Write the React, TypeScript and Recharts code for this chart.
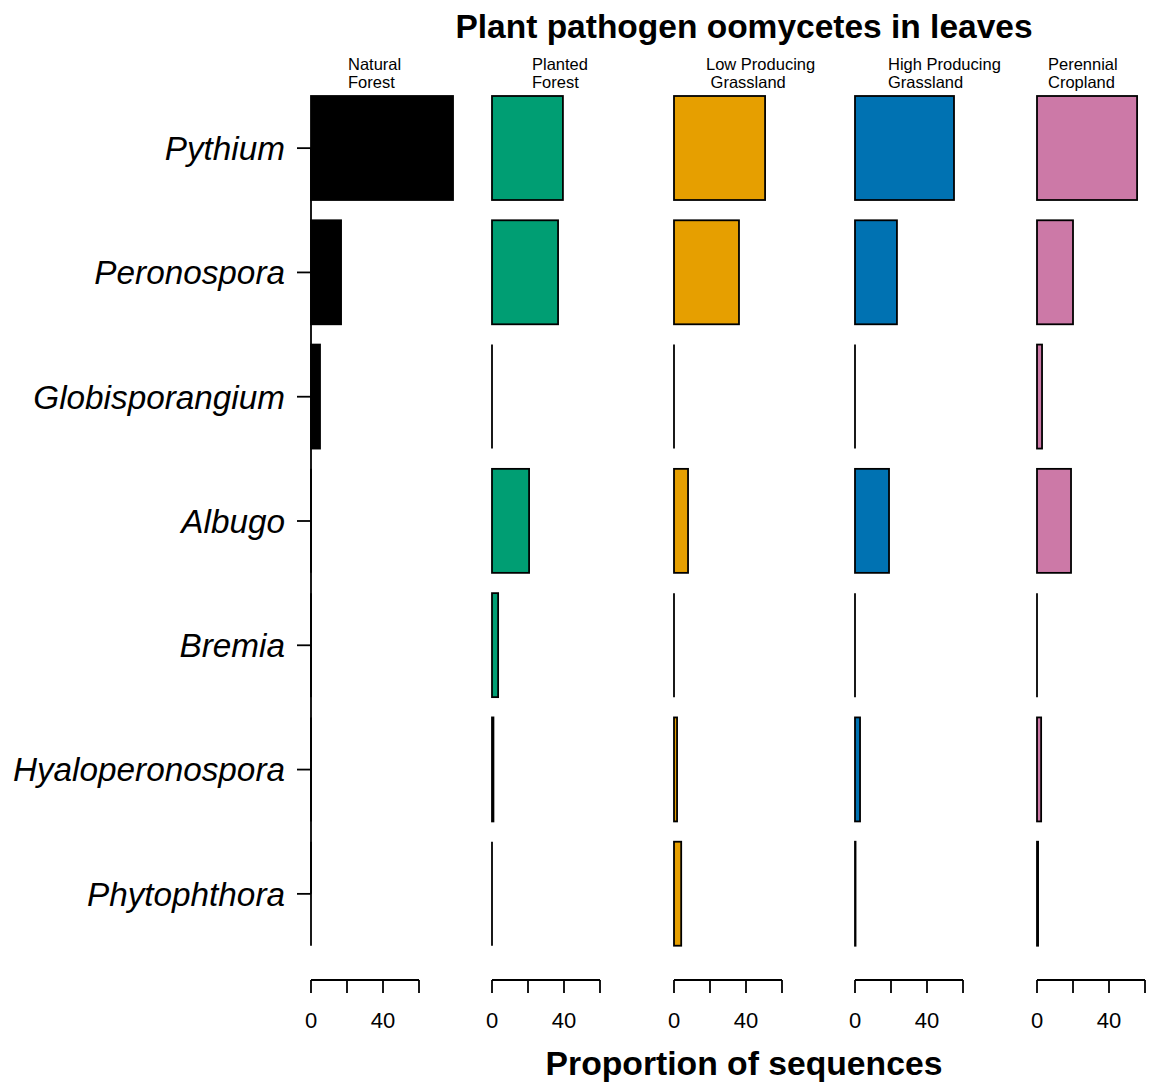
import React from 'react';
import { BarChart, Bar, XAxis, YAxis, ReferenceLine } from 'recharts';

// genera, top to bottom
const genera = ['Pythium', 'Peronospora', 'Globisporangium', 'Albugo', 'Bremia', 'Hyaloperonospora', 'Phytophthora'];

// proportion of sequences (%) per land use
const naturalForest = [78.9, 16.7, 5.0, 0, 0, 0, 0];
const plantedForest = [39.4, 36.7, 0, 20.6, 3.4, 0.8, 0];
const lowGrassland = [50.6, 36.1, 0, 7.8, 0, 1.7, 4.0];
const highGrassland = [55.0, 23.3, 0, 18.9, 0, 2.8, 0.3];
const perennialCropland = [55.6, 20.0, 2.8, 18.9, 0, 2.3, 0.6];

const panelTitles = [
  ['Natural', 'Forest'],
  ['Planted', 'Forest'],
  ['Low Producing', ' Grassland'],
  ['High Producing', 'Grassland'],
  ['Perennial', 'Cropland'],
];
const panelColors = ['#000000', '#009E73', '#E69F00', '#0072B2', '#CC79A7'];

const axisTicks = [0, 20, 40, 60];
const axisTickLabels = ['0', '', '40', ''];

const FONT = '"Liberation Sans", Arial, Helvetica, sans-serif';
const LW = 1.8;
// left edge (value 0) of each panel, in page pixels
const panelX = [311, 492, 674, 855, 1037];
const headerX = [348, 532, 706, 888, 1048];

const BarShape = (props: any) => {
  const { x, y, width, height, fill } = props;
  if (!width || width < 0.5) {
    return <line x1={x} x2={x} y1={y} y2={y + height} stroke="#000" strokeWidth={LW} />;
  }
  return <rect x={x} y={y} width={width} height={height} fill={fill} stroke="#000" strokeWidth={LW} />;
};

const Panel: React.FC<{ values: number[]; color: string; x0: number; showY: boolean }> = ({ values, color, x0, showY }) => {
  const rows = genera.map((g, i) => ({ genus: g, value: values[i] }));
  const left = showY ? 0 : x0 - 6;
  const yw = showY ? x0 : 0;
  return (
    <>
      <div style={{ position: 'absolute', left, top: 0 }}>
        <BarChart
          width={yw + (showY ? 0 : 6) + 144 + 6}
          height={960}
          data={rows}
          layout="vertical"
          margin={{ top: 86, bottom: 4, left: showY ? 0 : 6, right: 6 }}
          style={{ fontFamily: FONT }}
        >
          <XAxis type="number" domain={[0, 80]} hide />
          <YAxis
            type="category"
            dataKey="genus"
            hide={!showY}
            width={yw}
            interval={0}
            tickSize={14}
            tickMargin={12}
            axisLine={false}
            tickLine={{ stroke: '#000', strokeWidth: LW }}
            tick={{ fill: '#000', fontSize: 33.3, fontStyle: 'italic', fontFamily: FONT }}
          />
          {showY && (
            <ReferenceLine
              segment={[{ x: 0, y: genera[0] }, { x: 0, y: genera[genera.length - 1] }]}
              stroke="#000"
              strokeWidth={LW}
              ifOverflow="visible"
            />
          )}
          <Bar dataKey="value" barSize={104} fill={color} shape={BarShape} isAnimationActive={false} />
        </BarChart>
      </div>
      <div style={{ position: 'absolute', left: x0 - 20, top: 970 }}>
        <BarChart width={148} height={80} data={rows} layout="vertical" margin={{ top: 0, bottom: 0, left: 20, right: 20 }}>
          <XAxis
            type="number"
            domain={[0, 60]}
            allowDataOverflow
            ticks={axisTicks}
            interval={0}
            height={70}
            tickSize={13}
            tickMargin={19}
            tickFormatter={(v: number) => axisTickLabels[axisTicks.indexOf(v)] ?? ''}
            axisLine={{ stroke: '#000', strokeWidth: LW }}
            tickLine={{ stroke: '#000', strokeWidth: LW }}
            tick={{ fill: '#000', fontSize: 22, fontFamily: FONT }}
          />
          <YAxis type="category" dataKey="genus" hide />
        </BarChart>
      </div>
    </>
  );
};

const App: React.FC = () => {
  const series = [naturalForest, plantedForest, lowGrassland, highGrassland, perennialCropland];
  return (
    <div style={{ position: 'absolute', left: 0, top: 0, width: 1150, height: 1086, background: '#fff', fontFamily: FONT }}>
      {series.map((vals, i) => (
        <Panel key={i} values={vals} color={panelColors[i]} x0={panelX[i]} showY={i === 0} />
      ))}
      <svg width={1150} height={1086} style={{ position: 'absolute', left: 0, top: 0, pointerEvents: 'none' }}>
        <text x={744} y={38} textAnchor="middle" fontSize={33.5} fontWeight="bold" fontFamily={FONT} fill="#000">
          Plant pathogen oomycetes in leaves
        </text>
        {panelTitles.map((lines, i) => (
          <text key={i} fontSize={16.5} fontFamily={FONT} fill="#000" style={{ whiteSpace: 'pre' }}>
            <tspan x={headerX[i]} y={70}>{lines[0]}</tspan>
            <tspan x={headerX[i]} y={88}>{lines[1]}</tspan>
          </text>
        ))}
        <text x={744} y={1075} textAnchor="middle" fontSize={33.7} fontWeight="bold" fontFamily={FONT} fill="#000">
          Proportion of sequences
        </text>
      </svg>
    </div>
  );
};

export default App;
